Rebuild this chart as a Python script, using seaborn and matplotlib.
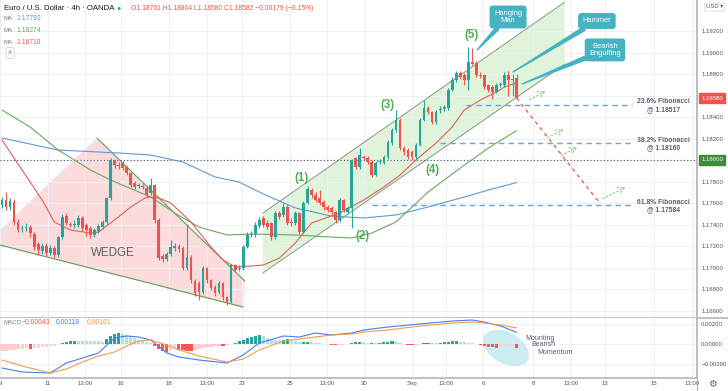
import matplotlib
matplotlib.use("Agg")
import matplotlib.pyplot as plt
import matplotlib.transforms as mtransforms
from matplotlib.lines import Line2D
from matplotlib.patches import Ellipse, Polygon
import numpy as np
import seaborn as sns

# EUR/USD 4h candles (OANDA)
opens = [1.17584, 1.17630, 1.17565, 1.17611, 1.17426, 1.17361, 1.17370, 1.17379, 1.17314, 1.17221,
         1.17156, 1.17203, 1.17138, 1.17184, 1.17119, 1.17286, 1.17481, 1.17407, 1.17398, 1.17398,
         1.17463, 1.17398, 1.17370, 1.17305, 1.17342, 1.17379, 1.17426, 1.17649, 1.18002, 1.17955,
         1.17974, 1.17937, 1.17881, 1.17788, 1.17760, 1.17760, 1.17741, 1.17695, 1.17769, 1.17444,
         1.17110, 1.17082, 1.17128, 1.17184, 1.17203, 1.17184, 1.16998, 1.17100, 1.16878, 1.16859,
         1.16775, 1.16998, 1.16887, 1.16822, 1.16775, 1.16859, 1.16729, 1.16682, 1.17026, 1.16989,
         1.16998, 1.17193, 1.17305, 1.17314, 1.17388, 1.17463, 1.17416, 1.17416, 1.17286, 1.17509,
         1.17491, 1.17565, 1.17426, 1.17416, 1.17509, 1.17333, 1.17602, 1.17723, 1.17676, 1.17649,
         1.17611, 1.17565, 1.17556, 1.17518, 1.17444, 1.17630, 1.17518, 1.17556, 1.18020, 1.17937,
         1.18029, 1.18020, 1.17983, 1.17862, 1.17983, 1.17974, 1.18029, 1.18160, 1.18280, 1.18373,
         1.18113, 1.18094, 1.18076, 1.18029, 1.18141, 1.18373, 1.18485, 1.18448, 1.18355, 1.18466,
         1.18475, 1.18485, 1.18652, 1.18745, 1.18810, 1.18791, 1.18745, 1.18912, 1.18903, 1.18791,
         1.18791, 1.18698, 1.18680, 1.18633, 1.18698, 1.18698, 1.18791, 1.18745, 1.18761]
highs = [1.17660, 1.17700, 1.17650, 1.17640, 1.17450, 1.17400, 1.17420, 1.17400, 1.17330, 1.17240,
         1.17230, 1.17230, 1.17210, 1.17200, 1.17300, 1.17500, 1.17510, 1.17430, 1.17440, 1.17490,
         1.17480, 1.17420, 1.17390, 1.17370, 1.17410, 1.17440, 1.17660, 1.18020, 1.18010, 1.17980,
         1.17990, 1.17950, 1.17890, 1.17810, 1.17790, 1.17780, 1.17760, 1.17830, 1.17780, 1.17460,
         1.17130, 1.17150, 1.17260, 1.17230, 1.17220, 1.17200, 1.17407, 1.17120, 1.16900, 1.16880,
         1.17020, 1.17010, 1.16900, 1.16840, 1.16880, 1.16870, 1.16740, 1.17040, 1.17040, 1.17030,
         1.17210, 1.17330, 1.17340, 1.17430, 1.17470, 1.17480, 1.17440, 1.17430, 1.17530, 1.17530,
         1.17600, 1.17580, 1.17460, 1.17530, 1.17520, 1.17620, 1.17760, 1.17740, 1.17700, 1.17720,
         1.17630, 1.17580, 1.17570, 1.17530, 1.17650, 1.17640, 1.17570, 1.18010, 1.18030, 1.18110,
         1.18050, 1.18040, 1.18000, 1.17990, 1.18010, 1.18050, 1.18190, 1.18300, 1.18466, 1.18390,
         1.18130, 1.18110, 1.18090, 1.18160, 1.18390, 1.18560, 1.18500, 1.18460, 1.18470, 1.18500,
         1.18510, 1.18670, 1.18770, 1.18830, 1.18830, 1.18810, 1.19051, 1.19042, 1.18920, 1.18820,
         1.18800, 1.18710, 1.18700, 1.18720, 1.18730, 1.18820, 1.18830, 1.18800, 1.18804]
lows = [1.17560, 1.17540, 1.17540, 1.17400, 1.17330, 1.17330, 1.17340, 1.17290, 1.17170, 1.17120,
        1.17130, 1.17110, 1.17120, 1.17090, 1.17100, 1.17270, 1.17400, 1.17380, 1.17370, 1.17380,
        1.17340, 1.17300, 1.17280, 1.17290, 1.17320, 1.17360, 1.17410, 1.17630, 1.17930, 1.17920,
        1.17910, 1.17860, 1.17750, 1.17730, 1.17740, 1.17730, 1.17650, 1.17680, 1.17420, 1.17070,
        1.17050, 1.17060, 1.17110, 1.17160, 1.17150, 1.16980, 1.16980, 1.16860, 1.16740, 1.16700,
        1.16760, 1.16860, 1.16790, 1.16740, 1.16760, 1.16700, 1.16655, 1.16670, 1.16960, 1.16970,
        1.16980, 1.17180, 1.17290, 1.17290, 1.17370, 1.17380, 1.17360, 1.17260, 1.17270, 1.17450,
        1.17470, 1.17400, 1.17390, 1.17400, 1.17310, 1.17320, 1.17590, 1.17650, 1.17610, 1.17580,
        1.17540, 1.17520, 1.17500, 1.17420, 1.17430, 1.17520, 1.17500, 1.17370, 1.17920, 1.17920,
        1.18000, 1.17960, 1.17840, 1.17850, 1.17960, 1.17960, 1.18010, 1.18140, 1.18260, 1.18090,
        1.18050, 1.18010, 1.18000, 1.18010, 1.18130, 1.18360, 1.18430, 1.18340, 1.18340, 1.18440,
        1.18460, 1.18470, 1.18640, 1.18730, 1.18750, 1.18700, 1.18650, 1.18880, 1.18770, 1.18760,
        1.18660, 1.18630, 1.18570, 1.18620, 1.18680, 1.18680, 1.18600, 1.18600, 1.18580]
closes = [1.17630, 1.17565, 1.17621, 1.17426, 1.17351, 1.17370, 1.17379, 1.17323, 1.17193, 1.17165,
          1.17203, 1.17138, 1.17184, 1.17119, 1.17286, 1.17472, 1.17416, 1.17398, 1.17407, 1.17463,
          1.17370, 1.17351, 1.17305, 1.17351, 1.17388, 1.17426, 1.17649, 1.18002, 1.17955, 1.17946,
          1.17927, 1.17881, 1.17769, 1.17751, 1.17769, 1.17751, 1.17676, 1.17769, 1.17444, 1.17091,
          1.17082, 1.17128, 1.17193, 1.17203, 1.17175, 1.16998, 1.17100, 1.16887, 1.16766, 1.16775,
          1.16998, 1.16887, 1.16812, 1.16766, 1.16859, 1.16729, 1.16682, 1.17026, 1.16980, 1.16998,
          1.17193, 1.17305, 1.17314, 1.17398, 1.17444, 1.17398, 1.17379, 1.17286, 1.17509, 1.17472,
          1.17565, 1.17416, 1.17416, 1.17509, 1.17333, 1.17602, 1.17732, 1.17676, 1.17630, 1.17602,
          1.17565, 1.17537, 1.17518, 1.17444, 1.17630, 1.17537, 1.17556, 1.18002, 1.17937, 1.18048,
          1.18020, 1.17983, 1.17862, 1.17974, 1.17992, 1.18029, 1.18169, 1.18280, 1.18373, 1.18113,
          1.18076, 1.18029, 1.18029, 1.18141, 1.18373, 1.18485, 1.18448, 1.18355, 1.18448, 1.18475,
          1.18494, 1.18652, 1.18745, 1.18810, 1.18773, 1.18745, 1.18912, 1.18893, 1.18791, 1.18782,
          1.18680, 1.18652, 1.18633, 1.18698, 1.18708, 1.18791, 1.18745, 1.18754, 1.18582]

# moving averages (bar index, value)
red_idx = [0, 5, 10, 13, 17, 22, 24, 28, 32, 36, 39, 42, 47, 52, 55, 58, 62, 65, 69, 73, 77,
           84, 90, 95, 99, 103, 108, 112, 115, 119, 123, 125, 128]
ma_red = [1.18187, 1.17909, 1.17630, 1.17426, 1.17351, 1.17323, 1.17333, 1.17444, 1.17565,
          1.17658, 1.17649, 1.17602, 1.17426, 1.17193, 1.17073, 1.17008, 1.17017, 1.17026,
          1.17091, 1.17231, 1.17416, 1.17509, 1.17630, 1.17751, 1.17862, 1.18002, 1.18160,
          1.18308, 1.18466, 1.18559, 1.18633, 1.18680, 1.18718]
green_idx = [0, 7, 14, 22, 27, 37, 43, 49, 56, 62, 73, 82, 87, 92, 98, 106, 114, 121, 128]
ma_green = [1.18466, 1.18308, 1.18094, 1.17909, 1.17816, 1.17658, 1.17509, 1.17379, 1.17305,
            1.17314, 1.17305, 1.17286, 1.17277, 1.17323, 1.17426, 1.17704, 1.17927, 1.18113,
            1.18274]
blue_idx = [0, 14, 29, 37, 45, 53, 59, 65, 73, 82, 90, 98, 106, 115, 121, 128]
ma_blue = [1.18206, 1.18094, 1.18067, 1.18048, 1.17983, 1.17844, 1.17797, 1.17686, 1.17556,
           1.17481, 1.17463, 1.17491, 1.17565, 1.17658, 1.17723, 1.17792]

# MACD
macd_idx = [0, 5, 12, 16, 20, 24, 28, 31, 34, 37, 41, 44, 49, 56, 60, 64, 70, 74, 78, 82,
            87, 90, 96, 104, 112, 117, 120, 124, 128]
macd_line = [-0.0024, -0.0028, -0.0029, -0.0019, -0.0014, -0.0009, 0.0006, 0.0008, 0.0007,
             0.0004, -0.0009, -0.0013, -0.0016, -0.0019, -0.0011, 0.0001, 0.0008, 0.0007,
             0.0011, 0.0009, 0.0011, 0.0014, 0.0017, 0.0020, 0.0023, 0.0024, 0.0022, 0.0018,
             0.00118]
macd_signal = [-0.0016, -0.0022, -0.0029, -0.0025, -0.0018, -0.0012, -0.0008, -0.0002, 0.0003,
               0.0004, -0.0001, -0.0006, -0.0012, -0.0018, -0.0015, -0.0006, 0.0003, 0.0005,
               0.0007, 0.0009, 0.0010, 0.0012, 0.0014, 0.0018, 0.0021, 0.0022, 0.0021, 0.0019,
               0.00161]
macd_hist = [-0.00070, -0.00065, -0.00060, -0.00055, -0.00050, -0.00045, -0.00040, -0.00045,
             -0.00040, -0.00035, -0.00030, -0.00025, -0.00020, -0.00015, 0.00005, 0.00015,
             0.00025, 0.00030, 0.00035, 0.00032, 0.00030, 0.00029, 0.00028, 0.00027, 0.00026,
             0.00025, 0.00050, 0.00080, 0.00100, 0.00110, 0.00100, 0.00090, 0.00075, 0.00060,
             0.00045, 0.00035, 0.00025, 0.00015, -0.00020, -0.00050, -0.00070, -0.00075,
             -0.00060, -0.00050, -0.00055, -0.00060, -0.00065, -0.00068, -0.00060, -0.00050,
             -0.00040, -0.00030, -0.00025, -0.00020, -0.00015, -0.00018, -0.00010, 0.00005,
             0.00015, 0.00030, 0.00045, 0.00060, 0.00075, 0.00085, 0.00090, 0.00080, 0.00065,
             0.00050, 0.00045, 0.00040, 0.00045, 0.00050, 0.00040, 0.00030, 0.00020, 0.00020,
             0.00025, 0.00020, 0.00015, 0.00010, 0.00005, 0.00003, -0.00005, -0.00010, -0.00008,
             -0.00005, 0.00005, 0.00015, 0.00020, 0.00025, 0.00020, 0.00015, 0.00015, 0.00012,
             0.00015, 0.00020, 0.00025, 0.00030, 0.00020, 0.00010, 0.00005, -0.00008, -0.00010,
             -0.00005, 0.00005, 0.00010, 0.00015, 0.00012, 0.00010, 0.00015, 0.00020, 0.00025,
             0.00030, 0.00030, 0.00025, 0.00020, 0.00015, 0.00010, 0.00005, -0.00005, -0.00015,
             -0.00025, -0.00030, -0.00035, -0.00025, -0.00023, -0.00022, -0.00020, -0.00043]

tick_pos = [-0.5, 11.4, 20.6, 29.6, 41.5, 51.0, 59.7, 71.6, 80.8, 90.0, 102.0, 110.4,
            119.7, 132.1, 141.5, 150.0, 162.2, 171.6]
tick_labels = ["9", "11", "13:00", "16", "18", "13:00", "23", "25", "13:00", "30", "Sep",
               "13:00", "6", "8", "13:00", "13", "15", "13:00"]
price_ticks = [1.166, 1.168, 1.170, 1.172, 1.174, 1.176, 1.178, 1.180, 1.182, 1.184,
               1.186, 1.188, 1.190, 1.192]
macd_ticks = [-0.002, 0.0, 0.002]

fib_levels = [1.18517, 1.18160, 1.17584]
fib_names = ["23.6% Fibonacci", "38.2% Fibonacci", "61.8% Fibonacci"]

W, H = 728, 391
UP, DOWN = "#26a69a", "#ef5350"
GRID = "#eef0f4"
AXC = "#b2b5be"
TXT = "#50535e"
TEAL = "#45b3c2"
FS = 4.3

sns.set_theme(style="white")
plt.rcParams["font.family"] = ["Liberation Sans", "DejaVu Sans"]

fig = plt.figure(figsize=(W / 100, H / 100), dpi=100)
ax = fig.add_axes([0, 1 - 318 / H, 697 / W, 318 / H])
ax2 = fig.add_axes([0, 1 - 378 / H, 697 / W, 60 / H], sharex=ax)

x = np.arange(len(closes))
o = np.array(opens)
c = np.array(closes)
cols = [UP if cc >= oo else DOWN for oo, cc in zip(o, c)]

for a in (ax, ax2):
    for s in ("top", "left"):
        a.spines[s].set_visible(False)
    a.spines["right"].set_color(AXC)
    a.spines["bottom"].set_color(AXC)
    a.spines["bottom"].set_linewidth(1.2)
    a.yaxis.tick_right()
    a.tick_params(axis="y", length=0, labelsize=FS, labelcolor=TXT, pad=3)
    a.tick_params(axis="x", length=0, labelsize=FS, labelcolor=TXT, pad=2.5)
    a.set_xticks(tick_pos)
    a.grid(True, color=GRID, linewidth=0.8)
    a.set_axisbelow(True)

ax.set_xlim(-0.5, 172.9)
ax.set_ylim(1.16534, 1.19488)
ax.set_yticks(price_ticks)
# the 1.18600 and 1.18000 labels sit under the price flags
ax.set_yticklabels(["" if p in (1.186, 1.180) else f"{p:.5f}" for p in price_ticks])
ax.tick_params(axis="x", labelbottom=False)
ax2.set_ylim(-0.0034, 0.0026)
ax2.set_yticks(macd_ticks)
ax2.set_yticklabels([f"{v:.5f}".replace("-", "\u2212") for v in macd_ticks])
ax2.set_xticklabels(tick_labels)

# frame pieces that run into the price scale / date strip
fig.add_artist(Line2D([697 / W, 1], [1 - 318 / H] * 2, color=AXC, lw=1.2))
fig.add_artist(Line2D([697 / W] * 2, [0, 1 - 378 / H], color=AXC, lw=0.8))

# wedge
ax.add_patch(Polygon([(-0.5, 1.17351), (23.6, 1.18206), (60.4, 1.16878), (60.0, 1.16627),
                      (-0.5, 1.17212)], closed=True, fc="#fbd5d5", ec="none", alpha=0.85, zorder=0.5))
ax.plot([23.6, 60.4], [1.18206, 1.16878], color="#5f9e50", lw=0.8, zorder=1)
ax.plot([-0.5, 60.0], [1.17212, 1.16636], color="#5f9e50", lw=0.8, zorder=1)
ax.text(27.6, 1.17138, "WEDGE", ha="center", va="center", fontsize=8.3, color="#5d606b", zorder=4)

# rising channel
ax.add_patch(Polygon([(64.9, 1.17509), (140.0, 1.19469), (140.0, 1.18893), (64.9, 1.16952)],
                     closed=True, fc="#dcf3d6", ec="none", alpha=0.9, zorder=0.5))
ax.plot([64.9, 140.0], [1.17509, 1.19469], color="#8a978a", lw=0.7, zorder=1)
ax.plot([64.9, 140.0], [1.16952, 1.18893], color="#8a978a", lw=0.7, zorder=1)

# level at 1.18
ax.axhline(1.18, color="#555861", lw=0.8, ls=(0, (1, 2)), zorder=1)

# moving averages
sns.lineplot(x=blue_idx, y=ma_blue, ax=ax, color="#5b9bd5", lw=0.8, zorder=2)
sns.lineplot(x=green_idx, y=ma_green, ax=ax, color="#6aa85e", lw=0.8, zorder=2)
sns.lineplot(x=red_idx, y=ma_red, ax=ax, color="#e0605a", lw=0.8, zorder=2)

# candles
ax.vlines(x, lows, highs, colors=cols, lw=0.8, zorder=3)
body = np.maximum(np.abs(c - o), 0.00003)
ax.bar(x, body, bottom=np.minimum(o, c), width=0.68, color=cols, lw=0, zorder=3)

# fibonacci levels
fib_start = [115.4, 109.0, 92.0]
for lvl, name, xs in zip(fib_levels, fib_names, fib_start):
    ax.plot([xs, 156.7], [lvl, lvl], color="#6fa3dc", lw=1.0, ls=(0, (4, 3)), zorder=2)
    ax.text(164.6, lvl - 0.0001, f"{name}\n@ {lvl:.5f}", ha="center", va="center",
            fontsize=4.9, color="#5d606b", fontweight="bold", linespacing=1.05, zorder=4)

# projection
ax.plot([128, 148.3], [1.18578, 1.17621], color="#ef5350", lw=0.9, ls=(0, (3, 3)), zorder=4)
for (x0, y0, x1, y1) in [(130.6, 1.18550, 135.8, 1.18652), (135.1, 1.18197, 140.3, 1.18299),
                         (138.5, 1.18030, 143.7, 1.18132), (148.8, 1.17630, 155.7, 1.17760)]:
    ax.annotate("", xy=(x1, y1), xytext=(x0, y0),
                arrowprops=dict(arrowstyle="->", color="#8fbf85", lw=0.7, ls=(0, (2, 2))), zorder=4)

# wave counts
for lab, bx, py in [("(1)", 74.6, 1.17834), ("(2)", 89.6, 1.17296), ("(3)", 95.8, 1.18513),
                    ("(4)", 107.2, 1.17909), ("(5)", 116.7, 1.19163)]:
    ax.text(bx, py, lab, ha="center", va="center", fontsize=8.3, color="#4caf50",
            fontweight="bold", zorder=4)

# callouts
for lab, xy, xyt in [("Hanging\nMan", (118.2, 1.19024), (125.9, 1.19330)),
                     ("Hammer", (127.1, 1.18819), (148.0, 1.19293)),
                     ("Bearish\nEngulfing", (129.4, 1.18708), (150.0, 1.19024))]:
    ax.annotate(lab, xy=xy, xytext=xyt, ha="center", va="center", color="white", fontsize=5.4,
                linespacing=1.0,
                bbox=dict(boxstyle="round,pad=0.5,rounding_size=0.3", fc=TEAL, ec=TEAL),
                arrowprops=dict(arrowstyle="wedge,tail_width=0.5", fc=TEAL, ec=TEAL,
                                shrinkA=0, shrinkB=0), zorder=5)

# price flags on the axis
for val, colr, ypx in [(1.18580, "#ef5350", 98), (1.18000, "#3d8b37", 160)]:
    fig.text(712 / W, 1 - ypx / H, f"{val:.5f}", ha="center", va="center", fontsize=FS,
             color="white", bbox=dict(boxstyle="square,pad=0.4", fc=colr, ec=colr))

# MACD panel
hcols = []
for i, v in enumerate(macd_hist):
    prev = macd_hist[i - 1] if i else v
    if v >= 0:
        hcols.append("#26a69a" if v >= prev else "#b2dfdb")
    else:
        hcols.append("#ff5252" if v < prev else "#ffcdd2")
ax2.bar(x, macd_hist, width=0.8, color=hcols, lw=0, zorder=2)
sns.lineplot(x=macd_idx, y=macd_line, ax=ax2, color="#4a7df0", lw=0.8, zorder=3)
sns.lineplot(x=macd_idx, y=macd_signal, ax=ax2, color="#f39c4b", lw=0.8, zorder=3)

el = Ellipse((0, 0), 0.5, 0.31, angle=-30, fc="#bfe9ef", ec="none", alpha=0.8, zorder=1,
             transform=fig.dpi_scale_trans + mtransforms.ScaledTranslation(125.4, -0.0004, ax2.transData))
ax2.add_patch(el)
for lab, bx, vy in [("Mounting", 130.3, 0.0005), ("Bearish", 131.6, -0.0001), ("Momentum", 133.1, -0.0009)]:
    ax2.text(bx, vy, lab, ha="left", va="center", fontsize=5, color="#5d606b", zorder=4)


def ftxt(xp, yp, s, **kw):
    return fig.text(xp / W, 1 - yp / H, s, va="center", **kw)


ftxt(4, 8, "Euro / U.S. Dollar \u00b7 4h \u00b7 OANDA", fontsize=5.6, color="#131722")
ftxt(116, 8, "\u25cf", fontsize=5, color="#26a69a")
ftxt(131, 8, "O1.18761 H1.18804 L1.18580 C1.18582 \u22120.00179 (\u22120.15%)",
     fontsize=4.9, color="#ef5350")
for yp, val, colr in [(19, "1.17792", "#5b9bd5"), (31, "1.18274", "#6aa85e"), (42, "1.18718", "#e0605a")]:
    ftxt(3, yp, "MA", fontsize=4.4, color="#787b86")
    ftxt(16, yp, val, fontsize=4.9, color=colr)
ftxt(8, 53, "\u02c4", fontsize=5, color=TXT,
     bbox=dict(boxstyle="round,pad=0.3", fc="white", ec="#d1d4dc", lw=0.6))
ftxt(3, 323, "MACD", fontsize=4.4, color="#787b86")
ftxt(22, 323, "\u22120.00043", fontsize=4.9, color="#ef5350")
ftxt(56, 323, "0.00118", fontsize=4.9, color="#4a7df0")
ftxt(87, 323, "0.00161", fontsize=4.9, color="#f39c4b")
ftxt(706, 7, "USD \u25be", fontsize=4.2, color=TXT,
     bbox=dict(boxstyle="round,pad=0.25", fc="white", ec="#d1d4dc", lw=0.5))
ftxt(708, 384, "\u2699", fontsize=7, color="#5d606b")

fig.savefig("out.png", dpi=100)
